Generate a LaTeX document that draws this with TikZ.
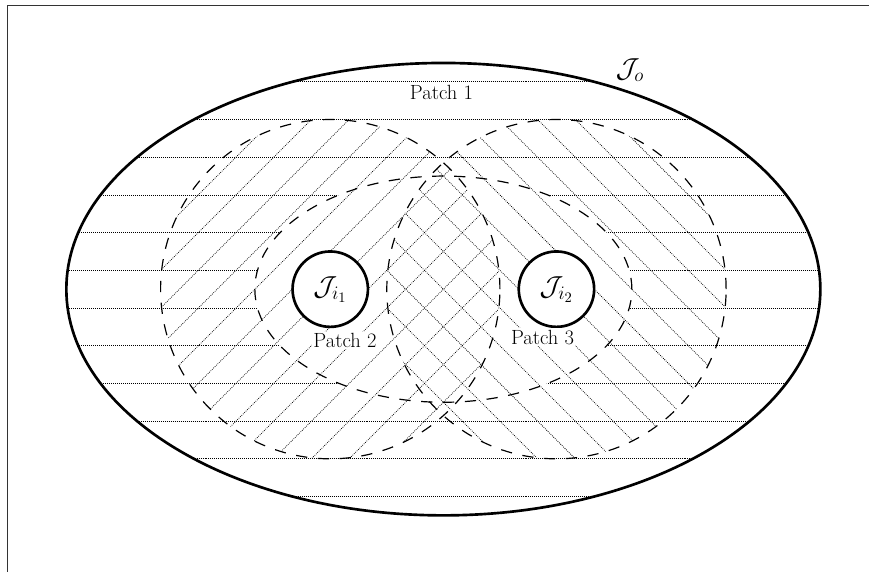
\documentclass[tikz,border=0pt]{standalone}
\begin{document}
\begin{tikzpicture}[
  hatch/.style={line width=0.55pt, dash pattern=on 0.6pt off 0.9pt, black},
  patchbd/.style={line width=0.9pt, dash pattern=on 8.5pt off 8pt},
  bound/.style={line width=2pt},
  frameline/.style={line width=0.8pt, black!80},
  plabel/.style={font=\fontsize{15.5}{18}\selectfont, fill=white, inner sep=1pt},
  jcirc/.style={circle, draw, line width=2pt, fill=white, minimum size=2cm, inner sep=0pt, font=\fontsize{22}{26}\selectfont},
  jlabel/.style={font=\fontsize{22}{26}\selectfont, inner sep=1pt},
]
\useasboundingbox (-11.76,-7.48) rectangle (11.29,7.67);
\draw[frameline] (-11.55,-7.7) -- (-11.55,7.53) -- (11.5,7.53);

% Patch 1 hatching: outer ellipse minus inner ellipse
\begin{scope}[even odd rule]
  \clip (0,0) ellipse (10 and 6) (0,0) ellipse (5 and 3);
  \foreach \k in {-5.5,-4.5,...,5.6} \draw[hatch] (-10.5,\k) -- (10.5,\k);
\end{scope}

% Patch 2 hatching
\begin{scope}
  \clip (-3,0) circle (4.5);
  \foreach \n in {-6,...,12} \draw[hatch] (-8,-8+\n) -- (2,2+\n);
\end{scope}

% Patch 3 hatching
\begin{scope}
  \clip (3,0) circle (4.5);
  \foreach \n in {-6,...,12} \draw[hatch] (-2,2+\n) -- (8,-8+\n);
\end{scope}

% dashed patch boundaries
\draw[patchbd] (-3,0) circle (4.5);
\draw[patchbd] (3,0) circle (4.5);
\draw[patchbd] (0,0) ellipse (5 and 3);

% outer boundary
\draw[bound] (0,0) ellipse (10 and 6);

% inner boundaries
\node[jcirc] (Ji1) at (-3,0) {$\mathcal{J}_{i_1}$};
\node[jcirc] (Ji2) at (3,0) {$\mathcal{J}_{i_2}$};

% labels
\node[jlabel] (Jo) at (4.95,5.82) {$\mathcal{J}_o$};
\node[plabel] (P1) at (-0.05,5.23) {Patch 1};
\node[plabel] (P2) at (-2.61,-1.35) {Patch 2};
\node[plabel] (P3) at (2.63,-1.27) {Patch 3};
\end{tikzpicture}
\end{document}
